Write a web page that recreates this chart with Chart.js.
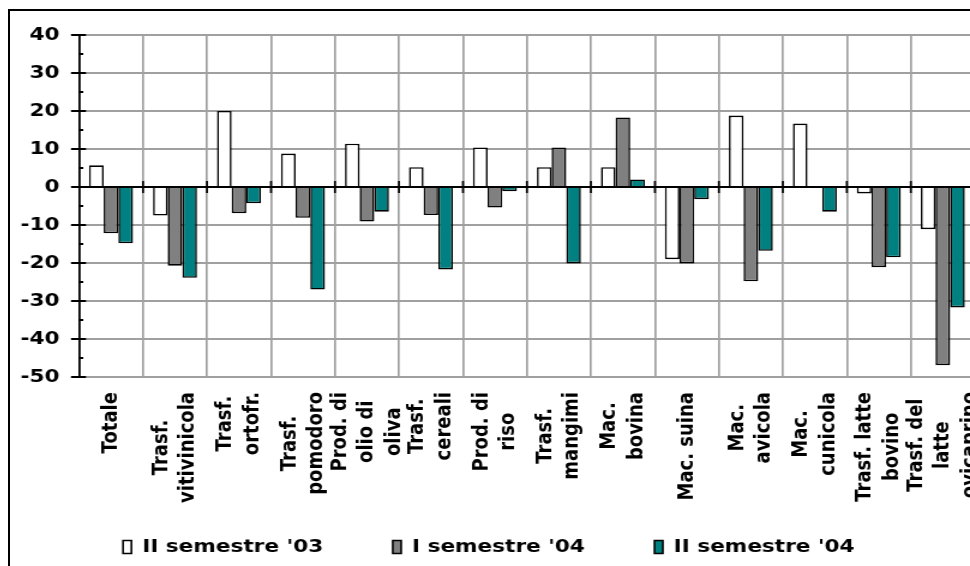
<!DOCTYPE html>
<html>
<head>
<meta charset="utf-8">
<script src="https://cdn.jsdelivr.net/npm/chart.js@4/dist/chart.umd.min.js"></script>
<style>
    html, body { margin: 0; padding: 0; background: #fff; overflow: hidden; }
    #frame { position: absolute; left: 8px; top: 9px; width: 1100px; height: 700px; border: 2px solid #000; }
</style>
</head>
<body>
<div id="frame">
    <!-- canvas disegnato stretto e poi allargato in orizzontale -->
    <canvas id="chart" width="820" height="555" style="display:block;width:984px;height:555px"></canvas>
</div>
<script>
// Categorie (una riga per elemento dell'etichetta)
const categories = [
    ["Totale"],
    ["Trasf.", "vitivinicola"],
    ["Trasf.", "ortofr."],
    ["Trasf.", "pomodoro"],
    ["Prod. di", "olio di", "oliva"],
    ["Trasf.", "cereali"],
    ["Prod. di", "riso"],
    ["Trasf.", "mangimi"],
    ["Mac.", "bovina"],
    ["Mac. suina"],
    ["Mac.", "avicola"],
    ["Mac.", "cunicola"],
    ["Trasf. latte", "bovino"],
    ["Trasf. del", "latte", "ovicaprino"]
];

// Variazioni percentuali per semestre
const sem2_03 = [5.7, -7.5, 20.0, 8.8, 11.4, 5.2, 10.4, 5.2, 5.2, -19.0, 18.8, 16.7, -1.7, -11.1];
const sem1_04 = [-12.2, -20.7, -6.9, -8.1, -9.1, -7.4, -5.4, 10.4, 18.3, -20.1, -24.8, 0, -21.1, -46.9];
const sem2_04 = [-14.8, -23.9, -4.3, -27.0, -6.5, -21.7, -1.1, -20.1, 2.0, -3.2, -16.8, -6.5, -18.5, -31.7];

const seriesNames = ["II semestre '03", "I semestre '04", "II semestre '04"];
const yMin = -50, yMax = 40, yStep = 10;

const FONT = '"DejaVu Sans", Verdana, sans-serif';
Chart.defaults.font.family = FONT;
Chart.defaults.font.size = 18;
Chart.defaults.font.weight = 'bold';
Chart.defaults.color = '#000';

// Linea dello zero, tacche sull'asse e tacche interne dell'asse Y
const axisMarks = {
    id: 'axisMarks',
    afterDatasetsDraw(chart) {
        const { ctx, chartArea, scales: { x, y } } = chart;
        const y0 = y.getPixelForValue(0);
        const half = (x.getPixelForValue(1) - x.getPixelForValue(0)) / 2;
        ctx.save();
        ctx.strokeStyle = '#000';
        ctx.lineWidth = 2;
        ctx.beginPath();
        ctx.moveTo(chartArea.left, y0);
        ctx.lineTo(chartArea.right, y0);
        ctx.stroke();

        ctx.lineWidth = 1.7;
        for (let i = 1; i < categories.length; i++) {
            const bx = x.getPixelForValue(i) - half;
            ctx.beginPath();
            ctx.moveTo(bx, y0 - 6);
            ctx.lineTo(bx, y0 + 6);
            ctx.stroke();
        }

        ctx.lineWidth = 2;
        for (let v = yMin; v <= yMax; v += yStep / 2) {
            const py = y.getPixelForValue(v);
            const len = (v % yStep === 0) ? 5.8 : 3.5;
            ctx.beginPath();
            ctx.moveTo(chartArea.left, py);
            ctx.lineTo(chartArea.left + len, py);
            ctx.stroke();
        }
        ctx.restore();
    }
};

// Etichette verticali delle categorie, righe centrate tra loro
const categoryLabels = {
    id: 'categoryLabels',
    afterDraw(chart) {
        const { ctx, scales: { x } } = chart;
        const linePitch = 22.5;
        ctx.save();
        ctx.font = 'bold 18px ' + FONT;
        ctx.fillStyle = '#000';
        ctx.textAlign = 'center';
        ctx.textBaseline = 'middle';
        categories.forEach((lines, i) => {
            const cx = x.getPixelForValue(i);
            const longest = Math.max(...lines.map(t => ctx.measureText(t).width));
            const midY = x.top + 15 + longest / 2;
            lines.forEach((t, j) => {
                ctx.save();
                ctx.translate(cx + (j - (lines.length - 1) / 2) * linePitch, midY);
                ctx.rotate(-Math.PI / 2);
                ctx.fillText(t, 0, 0);
                ctx.restore();
            });
        });
        ctx.restore();
    }
};

const ctx = document.getElementById('chart').getContext('2d');

new Chart(ctx, {
    type: 'bar',
    data: {
        labels: categories.map(l => l.join(' ')),
        datasets: [
            { label: seriesNames[0], data: sem2_03, backgroundColor: '#ffffff', borderColor: '#000', borderWidth: 1.6 },
            { label: seriesNames[1], data: sem1_04, backgroundColor: '#808080', borderColor: '#000', borderWidth: 1.6 },
            { label: seriesNames[2], data: sem2_04, backgroundColor: '#008080', borderColor: '#000', borderWidth: 1.6 }
        ]
    },
    options: {
        responsive: false,
        animation: false,
        devicePixelRatio: 1,
        datasets: {
            bar: { categoryPercentage: 0.6875, barPercentage: 1 }
        },
        // padding sinistro negativo per centrare la legenda sul riquadro
        layout: { padding: { top: 24, right: 16, left: -6, bottom: 0 } },
        plugins: {
            legend: {
                position: 'bottom',
                labels: {
                    boxWidth: 7,
                    boxHeight: 13,
                    padding: 58,
                    font: { size: 18, weight: 'bold' },
                    color: '#000'
                }
            },
            tooltip: { enabled: false }
        },
        scales: {
            x: {
                afterFit(scale) { scale.height = 103; },
                ticks: { display: false },
                grid: { color: '#a0a0a0', lineWidth: 1.7, drawTicks: false },
                border: { display: false }
            },
            y: {
                min: yMin,
                max: yMax,
                afterFit(scale) { scale.width = 63.5; },
                ticks: { stepSize: yStep, padding: 9.5, font: { size: 18, weight: 'bold' }, color: '#000' },
                grid: { color: '#a0a0a0', lineWidth: 2, tickLength: 6.7, tickColor: '#000', tickWidth: 2 },
                border: { color: '#000', width: 1.7 }
            }
        }
    },
    plugins: [axisMarks, categoryLabels]
});
</script>
</body>
</html>
